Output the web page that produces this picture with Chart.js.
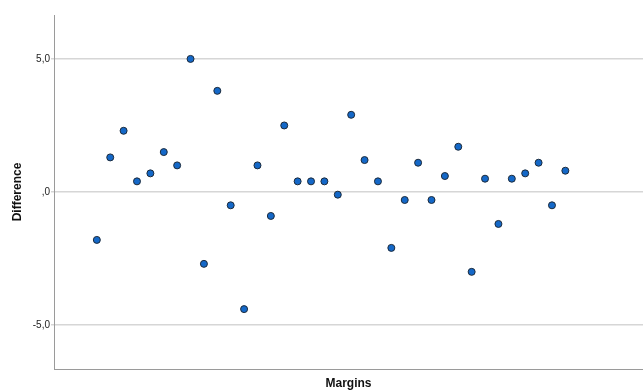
<!DOCTYPE html>
<html>
<head>
<meta charset="utf-8">
<script src="https://cdn.jsdelivr.net/npm/chart.js@4"></script>
<style>
  html, body { margin: 0; padding: 0; background: #fff; }
  #wrap { width: 643px; height: 391px; }
</style>
</head>
<body>
<div id="wrap"><canvas id="diffChart" width="643" height="391"></canvas></div>
<script>
// case numbers along the x axis (no tick labels shown)
const cases = [1, 2, 3, 4, 5, 6, 7, 8, 9, 10, 11, 12, 13, 14, 15, 16, 17, 18,
               19, 20, 21, 22, 23, 24, 25, 26, 27, 28, 29, 30, 31, 32, 33, 34, 35, 36];
const differences = [-1.8, 1.3, 2.3, 0.4, 0.7, 1.5, 1.0, 5.0, -2.7, 3.8, -0.5, -4.4,
                     1.0, -0.9, 2.5, 0.4, 0.4, 0.4, -0.1, 2.9, 1.2, 0.4, -2.1, -0.3,
                     1.1, -0.3, 0.6, 1.7, -3.0, 0.5, -1.2, 0.5, 0.7, 1.1, -0.5, 0.8];
const tickValues = [-5, 0, 5];
const tickLabels = ['-5,0', ',0', '5,0'];

document.addEventListener('DOMContentLoaded', function () {
    const ctx = document.getElementById('diffChart').getContext('2d');

    const points = cases.map((c, i) => ({ x: c, y: differences[i] }));

    new Chart(ctx, {
        type: 'scatter',
        data: {
            datasets: [{
                data: points,
                backgroundColor: '#1468c8',
                borderColor: '#1c2a3a',
                borderWidth: 1,
                pointRadius: 3.5,
                pointHoverRadius: 3.5
            }]
        },
        options: {
            responsive: false,
            animation: false,
            layout: {
                autoPadding: false,
                padding: { top: 15, right: 0, left: 0, bottom: 0 }
            },
            plugins: {
                legend: { display: false },
                tooltip: { enabled: false }
            },
            scales: {
                x: {
                    type: 'linear',
                    min: -2.2,
                    max: 41.8,
                    ticks: { display: false },
                    grid: { display: false },
                    border: { display: true, color: '#9a9a9a', width: 1 },
                    title: {
                        display: true,
                        text: 'Margins',
                        color: '#111',
                        font: { family: 'Liberation Sans', size: 12, weight: 'bold' },
                        padding: { top: 4, bottom: 0 }
                    },
                    afterFit: function (scale) {
                        scale.height = 22;
                        scale.paddingLeft = 0;
                        scale.paddingRight = 0;
                    }
                },
                y: {
                    min: -6.65,
                    max: 6.65,
                    afterBuildTicks: function (scale) {
                        scale.ticks = tickValues.map(v => ({ value: v }));
                    },
                    ticks: {
                        color: '#222',
                        font: { family: 'Liberation Sans', size: 10 },
                        padding: 1,
                        callback: function (value) {
                            const i = tickValues.indexOf(value);
                            return i >= 0 ? tickLabels[i] : '';
                        }
                    },
                    grid: {
                        color: '#d6d6d6',
                        lineWidth: 1.5,
                        tickLength: 3,
                        drawTicks: true
                    },
                    border: { display: true, color: '#9a9a9a', width: 1 },
                    title: {
                        display: true,
                        text: 'Difference',
                        color: '#111',
                        font: { family: 'Liberation Sans', size: 12, weight: 'bold' },
                        padding: { top: 10, bottom: 0 }
                    },
                    afterFit: function (scale) { scale.width = 54; }
                }
            }
        }
    });
});
</script>
</body>
</html>
